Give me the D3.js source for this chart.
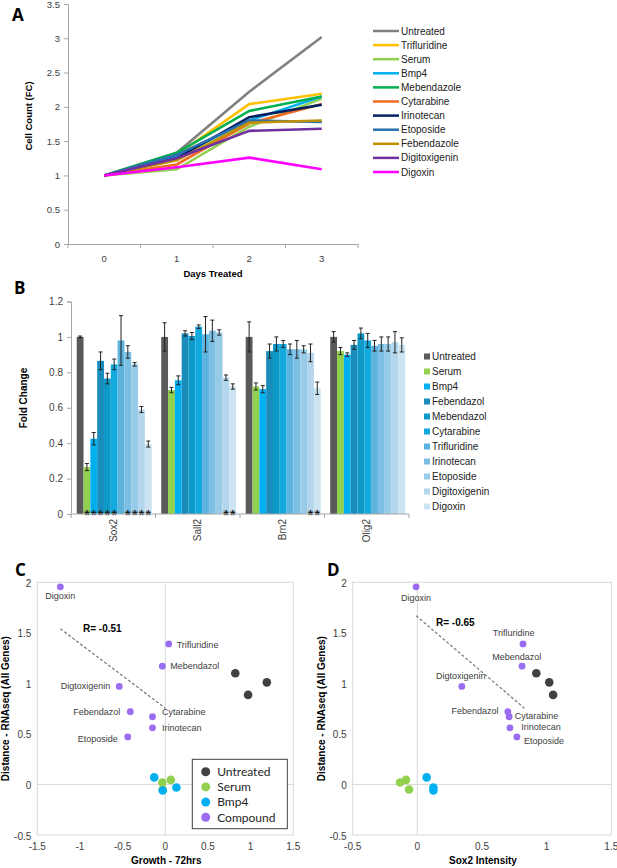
<!DOCTYPE html>
<html>
<head>
<meta charset="utf-8">
<script src="https://cdn.jsdelivr.net/npm/d3@7"></script>
<style>
  body { margin: 0; background: #fff; }
  svg { display: block; font-family: "Liberation Sans", Arial, sans-serif; }
</style>
</head>
<body>
<svg id="fig" width="617" height="868"></svg>
<script>
// ---- Panel A data: cell count fold change over days ----
const days = [0, 1, 2, 3];
const growthSeries = ["Untreated", "Trifluridine", "Serum", "Bmp4", "Mebendazole", "Cytarabine",
  "Irinotecan", "Etoposide", "Febendazole", "Digitoxigenin", "Digoxin"];
const growthValues = [
  [1, 1.33, 2.22, 3.02],
  [1, 1.30, 2.04, 2.19],
  [1, 1.09, 1.71, 2.12],
  [1, 1.28, 1.80, 2.15],
  [1, 1.33, 1.94, 2.15],
  [1, 1.16, 1.76, 2.04],
  [1, 1.25, 1.85, 2.03],
  [1, 1.30, 1.80, 1.78],
  [1, 1.22, 1.77, 1.80],
  [1, 1.25, 1.65, 1.68],
  [1, 1.12, 1.26, 1.09]
];
const growthColors = ["#808080", "#ffc000", "#92d050", "#00b0f0", "#00b050", "#f26b21",
  "#002060", "#2a6fb0", "#bf9000", "#7030a0", "#ff00ff"];

// ---- Panel B data: fold change per gene ----
const genes = ["Sox2", "Sall2", "Brn2", "Olig2"];
const treatments = ["Untreated", "Serum", "Bmp4", "Febendazol", "Mebendazol", "Cytarabine",
  "Trifluridine", "Irinotecan", "Etoposide", "Digitoxigenin", "Digoxin"];
const treatmentColors = ["#595959", "#92d050", "#00b0f0", "#1a8cbc", "#0e9ac9", "#12a9de",
  "#5cb3dd", "#7dbfe3", "#98cbe8", "#b3d6ed", "#cce3f2"];
const sox2Fold = [1.0, 0.265, 0.425, 0.865, 0.765, 0.845, 0.98, 0.915, 0.845, 0.59, 0.395];
const sox2Err = [0.005, 0.02, 0.035, 0.05, 0.03, 0.03, 0.14, 0.035, 0.01, 0.017, 0.017];
const sall2Fold = [1.0, 0.70, 0.755, 1.02, 1.005, 1.058, 1.015, 1.035, 1.025, 0.77, 0.72];
const sall2Err = [0.08, 0.015, 0.025, 0.015, 0.02, 0.01, 0.1, 0.06, 0.015, 0.015, 0.015];
const brn2Fold = [1.0, 0.72, 0.705, 0.92, 0.96, 0.96, 0.93, 0.93, 0.93, 0.91, 0.71];
const brn2Err = [0.085, 0.02, 0.02, 0.04, 0.04, 0.02, 0.03, 0.05, 0.02, 0.05, 0.035];
const olig2Fold = [1.0, 0.92, 0.90, 0.955, 1.02, 0.98, 0.95, 0.96, 0.96, 0.97, 0.955];
const olig2Err = [0.03, 0.02, 0.01, 0.025, 0.03, 0.04, 0.03, 0.04, 0.04, 0.06, 0.04];
// indices of treatments marked significant (*)
const sox2Sig = [1, 2, 3, 4, 5, 7, 8, 9, 10];
const sall2Sig = [9, 10];
const brn2Sig = [9, 10];
const olig2Sig = [];

// ---- Panels C & D data ----
const groups = ["Untreated", "Serum", "Bmp4", "Compound"];
const groupColors = ["#404040", "#92d050", "#00b0f0", "#9a6cf2"];
const untreatedGrowth = [0.82, 0.97, 1.19];
const untreatedSox2 = [0.92, 1.05, 1.02];
const untreatedDist = [1.10, 0.886, 1.01];
const serumGrowth = [-0.035, 0.065, -0.03];
const serumSox2 = [-0.134, -0.088, -0.064];
const serumDist = [0.02, 0.045, -0.05];
const bmp4Growth = [-0.13, 0.13, -0.03];
const bmp4Sox2 = [0.072, 0.124, 0.124];
const bmp4Dist = [0.07, -0.03, -0.06];
const compounds = ["Digoxin", "Trifluridine", "Mebendazol", "Digtoxigenin", "Febendazol",
  "Cytarabine", "Irinotecan", "Etoposide"];
const compoundGrowth = [-1.23, 0.04, -0.035, -0.54, -0.41, -0.15, -0.15, -0.44];
const compoundSox2 = [-0.01, 0.817, 0.81, 0.344, 0.70, 0.71, 0.716, 0.77];
const compoundDist = [1.955, 1.39, 1.17, 0.97, 0.72, 0.67, 0.56, 0.47];
const growthTrendX = [-1.23, 0.0];
const growthTrendY = [1.54, 0.755];
const sox2TrendX = [-0.01, 0.827];
const sox2TrendY = [1.67, 0.755];

const svg = d3.select("#fig");
const axisGray = "#a6a6a6";
const tickText = "#404040";

function panelLetter(t, x, y) {
  svg.append("text").attr("x", x).attr("y", y).attr("font-size", 17).attr("font-weight", "bold")
    .attr("font-family", "'Open Sans', 'Liberation Sans', sans-serif").text(t);
}

// ================= Panel A =================
panelLetter("A", 12, 21);
const aX = d3.scaleBand().domain(days).range([68, 358]);
const aY = d3.scaleLinear().domain([0, 3.5]).range([244, 4]);
const gA = svg.append("g");

const aLeft = gA.append("g").attr("transform", "translate(68,0)")
  .call(d3.axisLeft(aY).tickValues(d3.range(0, 3.51, 0.5)).tickSize(4).tickFormat(d => +d.toFixed(1)));
aLeft.select(".domain").attr("stroke", axisGray);
aLeft.selectAll(".tick line").attr("stroke", axisGray);
aLeft.selectAll("text").attr("font-size", 9.5).attr("fill", tickText).attr("x", -8);

const aBottom = gA.append("g").attr("transform", "translate(0,244)")
  .call(d3.axisBottom(aX).tickSize(0).tickPadding(11));
aBottom.select(".domain").attr("stroke", axisGray);
aBottom.selectAll("text").attr("font-size", 9.5).attr("fill", tickText);
gA.selectAll(".aBoundary").data(d3.range(days.length + 1)).enter().append("line")
  .attr("x1", i => 68 + i * aX.step()).attr("x2", i => 68 + i * aX.step())
  .attr("y1", 244).attr("y2", 248).attr("stroke", axisGray);

const aLine = d3.line()
  .x((d, i) => aX(days[i]) + aX.bandwidth() / 2)
  .y(d => aY(d));
gA.selectAll(".growthLine").data(growthValues).enter().append("path")
  .attr("d", aLine).attr("fill", "none")
  .attr("stroke", (d, i) => growthColors[i]).attr("stroke-width", 2.6);

gA.append("text").attr("transform", "translate(32,116) rotate(-90)").attr("text-anchor", "middle")
  .attr("font-size", 9.5).attr("font-weight", "bold").text("Cell Count (FC)");
gA.append("text").attr("x", 213).attr("y", 277).attr("text-anchor", "middle")
  .attr("font-size", 9.5).attr("font-weight", "bold").text("Days Treated");

const aLegend = gA.selectAll(".aLeg").data(growthSeries).enter().append("g")
  .attr("transform", (d, i) => `translate(373,${31 + i * 14.1})`);
aLegend.append("line").attr("x1", 0).attr("x2", 26)
  .attr("stroke", (d, i) => growthColors[i]).attr("stroke-width", 2.5);
aLegend.append("text").attr("x", 28).attr("dy", "0.35em").attr("font-size", 10).attr("fill", "#222").text(d => d);

// ================= Panel B =================
panelLetter("B", 14, 294);
const foldTable = genes.map((g, gi) => ({
  gene: g,
  fold: [sox2Fold, sall2Fold, brn2Fold, olig2Fold][gi],
  err: [sox2Err, sall2Err, brn2Err, olig2Err][gi],
  sig: [sox2Sig, sall2Sig, brn2Sig, olig2Sig][gi]
}));
const bX0 = d3.scaleBand().domain(genes).range([71, 409]);
const bX1 = d3.scaleBand().domain(treatments).range([0, bX0.bandwidth()]).paddingOuter(0.7).align(0.6);
const bY = d3.scaleLinear().domain([0, 1.2]).range([514, 301.5]);
const gB = svg.append("g");

const bLeft = gB.append("g").attr("transform", "translate(71,0)")
  .call(d3.axisLeft(bY).tickValues(d3.range(0, 1.21, 0.2)).tickSize(4).tickFormat(d => +d.toFixed(1)));
bLeft.select(".domain").attr("stroke", axisGray);
bLeft.selectAll(".tick line").attr("stroke", axisGray);
bLeft.selectAll("text").attr("font-size", 10).attr("fill", tickText).attr("x", -8);

const geneG = gB.selectAll(".gene").data(foldTable).enter().append("g")
  .attr("transform", d => `translate(${bX0(d.gene)},0)`);
geneG.selectAll("rect").data(d => d.fold.map((v, i) => ({ v, e: d.err[i], t: treatments[i], i })))
  .enter().append("rect")
  .attr("x", d => bX1(d.t)).attr("width", bX1.bandwidth())
  .attr("y", d => bY(d.v)).attr("height", d => bY(0) - bY(d.v))
  .attr("fill", d => treatmentColors[d.i]);
const errG = geneG.selectAll(".err").data(d => d.fold.map((v, i) => ({ v, e: d.err[i], t: treatments[i] })))
  .enter().append("g").attr("transform", d => `translate(${bX1(d.t) + bX1.bandwidth() / 2},0)`);
errG.append("line").attr("y1", d => bY(d.v - d.e)).attr("y2", d => bY(d.v + d.e)).attr("stroke", "#222");
errG.append("line").attr("x1", -2).attr("x2", 2).attr("y1", d => bY(d.v + d.e)).attr("y2", d => bY(d.v + d.e)).attr("stroke", "#222");
errG.append("line").attr("x1", -2).attr("x2", 2).attr("y1", d => bY(d.v - d.e)).attr("y2", d => bY(d.v - d.e)).attr("stroke", "#222");
geneG.selectAll(".star").data(d => d.sig).enter().append("text")
  .attr("x", i => bX1(treatments[i]) + bX1.bandwidth() / 2).attr("y", 520)
  .attr("text-anchor", "middle").attr("font-size", 14).attr("font-weight", "bold")
  .attr("fill", "#1a1a1a").text("*");

gB.append("line").attr("x1", 71).attr("x2", 409).attr("y1", 514).attr("y2", 514).attr("stroke", axisGray);
gB.selectAll(".bBoundary").data(d3.range(genes.length + 1)).enter().append("line")
  .attr("x1", i => 71 + i * bX0.step()).attr("x2", i => 71 + i * bX0.step())
  .attr("y1", 514).attr("y2", 518).attr("stroke", axisGray);
gB.selectAll(".geneLabel").data(genes).enter().append("text")
  .attr("transform", d => `translate(${bX0(d) + bX0.bandwidth() / 2 + 3.5},519) rotate(-90)`)
  .attr("text-anchor", "end").attr("font-size", 10).attr("fill", tickText).text(d => d);

gB.append("text").attr("transform", "translate(27,398) rotate(-90)").attr("text-anchor", "middle")
  .attr("font-size", 10).attr("font-weight", "bold").text("Fold Change");

const bLegend = gB.selectAll(".bLeg").data(treatments).enter().append("g")
  .attr("transform", (d, i) => `translate(424,${356.5 + i * 15})`);
bLegend.append("rect").attr("y", -3).attr("width", 6).attr("height", 6).attr("fill", (d, i) => treatmentColors[i]);
bLegend.append("text").attr("x", 8).attr("dy", "0.35em").attr("font-size", 10).attr("fill", "#222").text(d => d);

// ================= Panels C & D =================
function scatterPanel(letter, letterX, xDomain, xRange, xTicks, xData, labelPos,
                      trendX, trendY, rText, rX, rY, xTitle, yTitleX, showLegend) {
  panelLetter(letter, letterX, 575.5);
  const x = d3.scaleLinear().domain(xDomain).range(xRange);
  const y = d3.scaleLinear().domain([-0.5, 2]).range([835, 582.3]);
  const g = svg.append("g");
  const grid = "#d9d9d9";

  g.append("rect").attr("x", xRange[0]).attr("y", y(2)).attr("width", xRange[1] - xRange[0])
    .attr("height", y(-0.5) - y(2)).attr("fill", "none").attr("stroke", grid);
  g.append("line").attr("x1", x(0)).attr("x2", x(0)).attr("y1", y(2)).attr("y2", y(-0.5)).attr("stroke", grid);
  g.append("line").attr("x1", xRange[0]).attr("x2", xRange[1]).attr("y1", y(0)).attr("y2", y(0)).attr("stroke", grid);

  g.selectAll(".xt").data(xTicks).enter().append("text")
    .attr("x", d => x(d)).attr("y", 850).attr("text-anchor", "middle")
    .attr("font-size", 10).attr("fill", tickText).text(d => d);
  g.selectAll(".yt").data([-0.5, 0, 0.5, 1, 1.5, 2]).enter().append("text")
    .attr("x", xRange[0] - 6).attr("y", d => y(d) + 1).attr("dy", "0.35em").attr("text-anchor", "end")
    .attr("font-size", 10).attr("fill", tickText).text(d => d);

  g.append("text").attr("x", (xRange[0] + xRange[1]) / 2 + 1).attr("y", 864).attr("text-anchor", "middle")
    .attr("font-size", 10).attr("font-weight", "bold").text(xTitle);
  g.append("text").attr("transform", `translate(${yTitleX},${(y(2) + y(-0.5)) / 2}) rotate(-90)`)
    .attr("text-anchor", "middle").attr("font-size", 10).attr("font-weight", "bold")
    .text("Distance - RNAseq (All Genes)");

  // trend line
  g.append("line").attr("x1", x(trendX[0])).attr("y1", y(trendY[0]))
    .attr("x2", x(trendX[1])).attr("y2", y(trendY[1]))
    .attr("stroke", "#7f7f7f").attr("stroke-width", 1.3).attr("stroke-dasharray", "3,2");
  g.append("text").attr("x", rX).attr("y", rY).attr("font-size", 10).attr("font-weight", "bold").text(rText);

  const sets = [
    { xs: xData.untreated, ys: untreatedDist, c: 0, r: 4.3 },
    { xs: xData.serum, ys: serumDist, c: 1, r: 4.3 },
    { xs: xData.bmp4, ys: bmp4Dist, c: 2, r: 4.3 },
    { xs: xData.compound, ys: compoundDist, c: 3, r: 3.4 }
  ];
  sets.forEach(s => {
    g.selectAll(null).data(s.xs.map((v, i) => [v, s.ys[i]])).enter().append("circle")
      .attr("cx", d => x(d[0])).attr("cy", d => y(d[1])).attr("r", s.r).attr("fill", groupColors[s.c]);
  });

  g.selectAll(".pl").data(compounds).enter().append("text")
    .attr("x", (d, i) => x(xData.compound[i]) + labelPos[d][0])
    .attr("y", (d, i) => y(compoundDist[i]) + labelPos[d][1])
    .attr("text-anchor", d => labelPos[d][2])
    .attr("font-size", 9).attr("fill", "#404040").text(d => d);

  if (showLegend) {
    g.append("rect").attr("x", 192.3).attr("y", 759.3).attr("width", 95).attr("height", 69.4)
      .attr("fill", "#fff").attr("stroke", "#404040");
    const leg = g.selectAll(".cl").data(groups).enter().append("g")
      .attr("transform", (d, i) => `translate(205.7,${771.7 + i * 15.2})`);
    leg.append("circle").attr("r", 4.5).attr("fill", (d, i) => groupColors[i]);
    leg.append("text").attr("x", 11.5).attr("dy", "0.36em").attr("font-size", 12)
      .attr("font-family", "Lato, 'Open Sans', sans-serif").attr("fill", "#262626").text(d => d);
  }
}

scatterPanel("C", 15, [-1.5, 1.5], [37.3, 293.3], [-1.5, -1, -0.5, 0, 0.5, 1, 1.5],
  { untreated: untreatedGrowth, serum: serumGrowth, bmp4: bmp4Growth, compound: compoundGrowth },
  {
    Digoxin: [0, 12.5, "middle"], Trifluridine: [8, 4, "start"], Mebendazol: [8, 3, "start"],
    Digtoxigenin: [-9, 3, "end"], Febendazol: [-10, 3, "end"], Cytarabine: [9.5, -2, "start"],
    Irinotecan: [9.5, 3.5, "start"], Etoposide: [-10, 5.5, "end"]
  },
  growthTrendX, growthTrendY, "R= -0.51", 83, 632, "Growth - 72hrs", 9, true);

scatterPanel("D", 327, [-0.5, 1.5], [352.7, 611.3], [-0.5, 0, 0.5, 1, 1.5],
  { untreated: untreatedSox2, serum: serumSox2, bmp4: bmp4Sox2, compound: compoundSox2 },
  {
    Digoxin: [0, 14, "middle"], Trifluridine: [-9.4, -8, "middle"], Mebendazol: [-5.3, -6, "middle"],
    Digtoxigenin: [-1, -7, "middle"], Febendazol: [-9.4, 2, "end"], Cytarabine: [5.6, 2, "start"],
    Irinotecan: [11.3, 2, "start"], Etoposide: [7, 7.5, "start"]
  },
  sox2TrendX, sox2TrendY, "R= -0.65", 436, 626, "Sox2 Intensity", 325, false);
</script>
</body>
</html>
